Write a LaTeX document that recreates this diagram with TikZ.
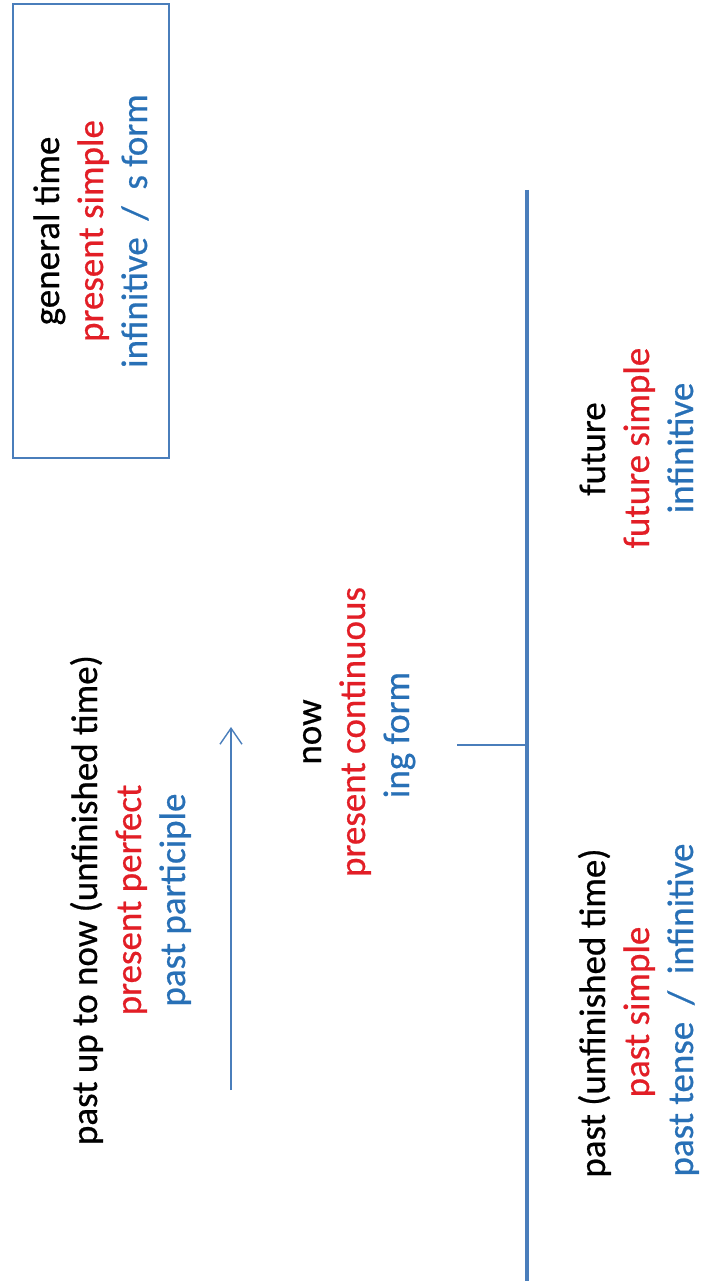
\documentclass[tikz,border=0pt]{standalone}
\usepackage{fontspec}
\setmainfont[FakeBold=0.6]{Carlito}
\usetikzlibrary{arrows.meta}
\definecolor{lineblue}{RGB}{74,126,187}
\definecolor{txtred}{RGB}{226,30,38}
\definecolor{txtblue}{RGB}{40,112,182}
\begin{document}
\begin{tikzpicture}[x=1pt,y=-1pt,
  lbl/.style={rotate=90,anchor=base,inner sep=0pt,font=\fontsize{37}{44}\selectfont},
  redlbl/.style={lbl,text=txtred},
  bluelbl/.style={lbl,text=txtblue},
  thinline/.style={draw=lineblue,line width=1.4pt},
  axisline/.style={draw=lineblue,line width=4.6pt}]
\useasboundingbox (0,0) rectangle (706,1281);
% general time box
\node[thinline,minimum width=156pt,minimum height=454pt,inner sep=0pt] (box) at (91,231) {};
\node[lbl] (gen1) at (59,231) {general time};
\node[redlbl] (gen2) at (103,231) {present simple};
\node[bluelbl] (gen3) at (147,231) {infinitive\ \ /\ \ s form};
% past up to now
\node[lbl] (pn1) at (97,900) {past up to now (unfinished time)};
\node[redlbl] (pn2) at (141,900) {present perfect};
\node[bluelbl] (pn3) at (185,900) {past participle};
\coordinate (abot) at (231,1090);
\coordinate (atop) at (231,727);
\draw[thinline,-{Straight Barb[length=16pt,width=22pt]}] (abot) -- (atop);
% now
\node[lbl] (now1) at (321,732) {now};
\node[redlbl] (now2) at (365,732) {present continuous};
\node[bluelbl] (now3) at (409,735) {ing form};
% main time line
\coordinate (ltop) at (527,190);
\coordinate (lbot) at (527,1281);
\draw[axisline] (ltop) -- (lbot);
\coordinate (tick) at (457,745);
\draw[thinline] (tick) -- (tick -| ltop);
% future
\node[lbl] (fu1) at (605,449) {future};
\node[redlbl] (fu2) at (649,448) {future simple};
\node[bluelbl] (fu3) at (693,448) {infinitive};
% past
\node[lbl] (pa1) at (605,1013) {past (unfinished time)};
\node[redlbl] (pa2) at (649,1012) {past simple};
\node[bluelbl] (pa3) at (693,1010) {past tense\ \ /\ \ infinitive};
\end{tikzpicture}
\end{document}
